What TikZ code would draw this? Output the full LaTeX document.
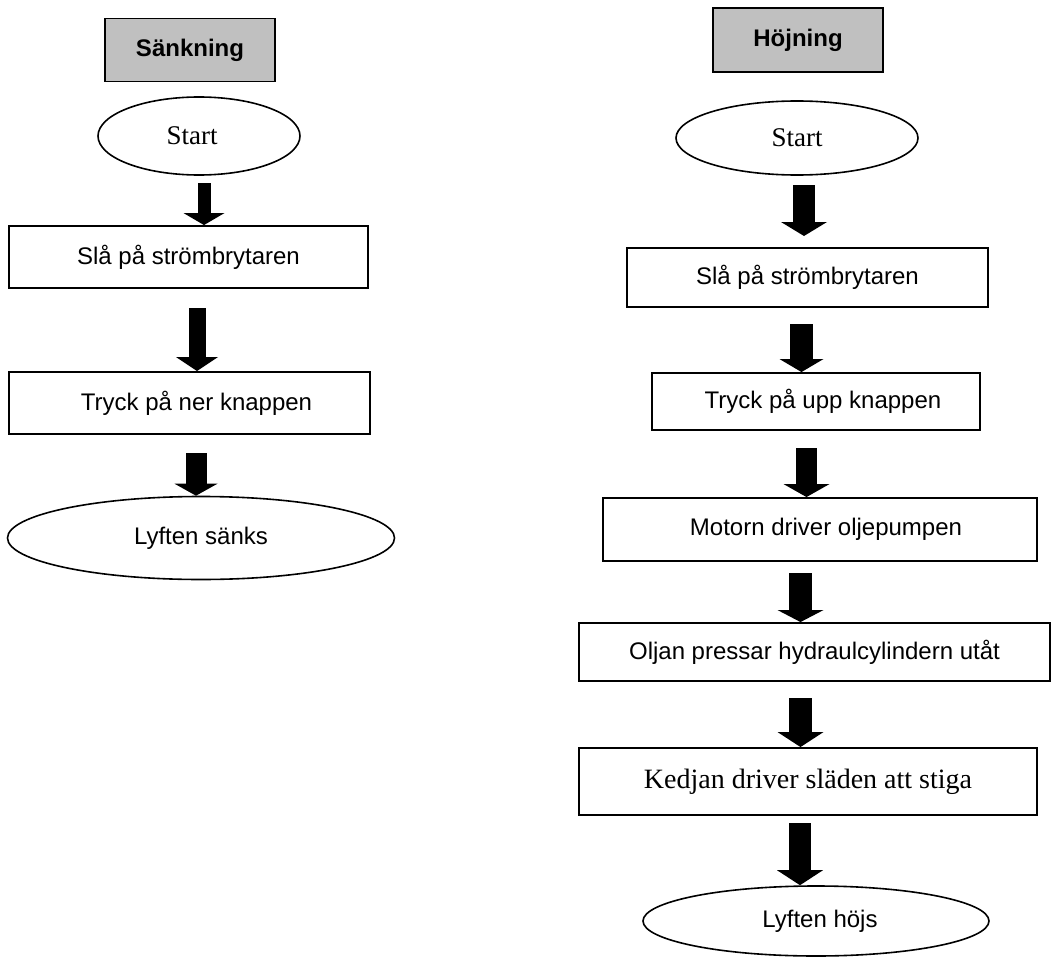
\documentclass[tikz,border=0pt]{standalone}
\usepackage{fontspec}
\setmainfont{Liberation Serif}
\setsansfont{Liberation Sans}
\usetikzlibrary{shapes.geometric,arrows.meta}
\definecolor{titlegray}{RGB}{192,192,192}
\tikzset{
  titlebox/.style={draw, line width=1.9pt, fill=titlegray, rectangle, inner sep=0pt,
    font=\sffamily\bfseries\fontsize{24}{28}\selectfont},
  stepbox/.style={draw, line width=1.9pt, rectangle, inner sep=0pt,
    font=\sffamily\fontsize{24}{28}\selectfont},
  serifbox/.style={stepbox, font=\rmfamily\fontsize{28}{32}\selectfont},
  terminal/.style={draw, line width=1.6pt, ellipse, inner sep=0pt,
    font=\sffamily\fontsize{24}{28}\selectfont},
  startterm/.style={terminal, font=\rmfamily\fontsize{27}{31}\selectfont},
}
% thick block arrow: tail coordinate, tip point, shaft width, head width, head length
\newcommand\blockarrow[5]{%
  \draw[line width=#3pt, -{Triangle[length=#5pt,width=#4pt,line width=0pt]}] (#1) -- (#2);}
\begin{document}
\begin{tikzpicture}[x=1pt,y=-1pt]
\useasboundingbox (0,0) rectangle (1053,958);

% ---- lowering sequence ----
\node[titlebox, minimum width=170pt, minimum height=63pt] (sank) at (190,50) {Sänkning};
\node[startterm, minimum width=202pt, minimum height=78pt] (startL) at (199,136) {Start\hspace*{14pt}};
\node[stepbox, minimum width=359pt, minimum height=62pt] (l1) at (188.5,257) {Slå på strömbrytaren};
\node[stepbox, minimum width=361pt, minimum height=62pt] (l2) at (189.5,403) {\hspace*{14pt}Tryck på ner knappen};
\node[terminal, minimum width=387pt, minimum height=83pt] (endL) at (201,538) {Lyften sänks};

\coordinate (la1) at (204,183);
\coordinate (la2) at (197,308);
\coordinate (la3) at (196,453);
\blockarrow{la1}{la1 |- l1.north}{13}{41}{12}
\blockarrow{la2}{la2 |- l2.north}{17}{42}{14}
\blockarrow{la3}{la3 |- endL.north}{21}{43}{12}

% ---- raising sequence ----
\node[titlebox, minimum width=170pt, minimum height=64pt] (hoj) at (798,40) {Höjning};
\node[startterm, minimum width=242pt, minimum height=74pt] (startR) at (797,138) {Start};
\node[stepbox, minimum width=361pt, minimum height=59pt] (r1) at (807.5,277.5) {Slå på strömbrytaren};
\node[stepbox, minimum width=328pt, minimum height=57pt] (r2) at (816,401.5) {\hspace*{14pt}Tryck på upp knappen};
\node[stepbox, minimum width=434pt, minimum height=63pt] (r3) at (820,529.5) {\hspace*{12pt}Motorn driver oljepumpen};
\node[stepbox, minimum width=471pt, minimum height=58pt] (r4) at (814.5,652) {Oljan pressar hydraulcylindern utåt};
\node[serifbox, minimum width=458pt, minimum height=67pt] (r5) at (808,781.5) {Kedjan driver släden att stiga};
\node[terminal, minimum width=346pt, minimum height=70pt] (endR) at (816,921) {\hspace*{8pt}Lyften höjs};

\coordinate (ra1) at (804,185);
\coordinate (ra2) at (801.5,324);
\coordinate (ra3) at (806.5,448);
\coordinate (ra4) at (800.5,573);
\coordinate (ra5) at (800.5,698);
\coordinate (ra6) at (800,823);
\coordinate (rt1) at (804,236);
\blockarrow{ra1}{rt1}{22}{46}{14}
\blockarrow{ra2}{ra2 |- r2.north}{23}{44}{13}
\blockarrow{ra3}{ra3 |- r3.north}{21}{46}{13}
\blockarrow{ra4}{ra4 |- r4.north}{23}{46}{12}
\blockarrow{ra5}{ra5 |- r5.north}{23}{46}{15}
\blockarrow{ra6}{ra6 |- endR.north}{22}{46}{15}
\end{tikzpicture}
\end{document}
